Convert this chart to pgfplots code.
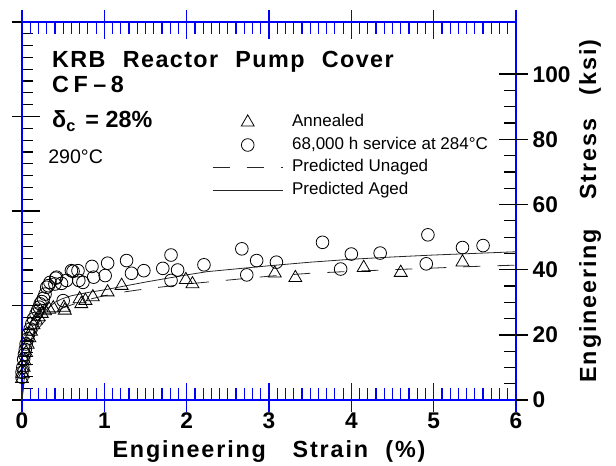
\documentclass[border=0pt]{standalone}
\usepackage{fontspec}
\setmainfont{Liberation Sans}
\usepackage{pgfplots}
\pgfplotsset{compat=1.18}
\pgfplotsset{
  markleg/.style={legend image code/.code={\draw[mark repeat=2,mark phase=2,##1] plot coordinates {(0pt,0pt)(26.25pt,0pt)(52.5pt,0pt)};}},
  lineleg/.style={legend image code/.code={\draw[##1] (0pt,0pt) -- (52.5pt,0pt);}},
}

\begin{document}
\begin{tikzpicture}
\useasboundingbox (-16.5pt,-49.5pt) rectangle (445.5pt,300pt);

% left axis: MPa ticks only, no labels
\begin{axis}[
  scale only axis, width=370.5pt, height=283.5pt,
  xmin=0, xmax=6, ymin=0, ymax=800,
  hide x axis,
  ytick={0,200,...,800}, minor y tick num=7,
  ytick pos=left, yticklabels={},
  tick align=inside,
  major tick length=13.5pt, minor tick length=8.25pt,
  axis line style={blue, line width=1.2pt},
  every major tick/.append style={black, line width=1.2pt},
  every minor tick/.append style={black, line width=0.9pt},
  extra y ticks={0,200,...,800}, extra y tick labels={},
  extra y tick style={tick align=outside, major tick length=7.5pt},
]
\end{axis}

\begin{axis}[
  scale only axis, width=370.5pt, height=283.5pt,
  xmin=0, xmax=6, ymin=0, ymax=116.03,
  clip=false,
  xtick={0,...,6}, minor x tick num=9,
  ytick={0,20,...,100}, minor y tick num=3,
  xtick pos=both, xticklabel pos=lower,
  ytick pos=right, yticklabel pos=right,
  tick align=inside,
  major tick length=12.75pt, minor tick length=8.75pt,
  axis line style={blue, line width=1.2pt},
  x tick style={blue},
  y tick style={black},
  every major tick/.append style={line width=1.2pt},
  every minor tick/.append style={line width=0.9pt},
  extra x ticks={0,...,6}, extra x tick labels={},
  extra x tick style={tick align=outside, major tick length=9pt},
  extra y ticks={0,20,...,100}, extra y tick labels={},
  extra y tick style={tick align=outside, major tick length=9pt},
  /pgf/number format/assume math mode=true,
  xticklabel style={font=\fontsize{17}{20}\bfseries, yshift=-6pt},
  yticklabel style={font=\fontsize{17}{20}\bfseries, xshift=9pt},
  xlabel={Engineering\hspace{20pt}Strain\hspace{13pt}(\%)},
  xlabel style={at={(rel axis cs:0.5,0)}, anchor=base, yshift=-42.8pt,
    font=\fontsize{17.5}{20}\bfseries\addfontfeatures{LetterSpace=8}},
  legend style={draw=none, fill=none, at={(axis cs:2.26,89.1)}, anchor=north west,
    font=\fontsize{12.75}{15}\selectfont, row sep=2.5pt, column sep=5.75pt,
    nodes={inner sep=1pt, text height=9.5pt, text depth=3pt}},
  legend cell align=left,
]

\addplot[only marks, mark=triangle, mark size=5.6pt, mark options={line width=0.6pt}, black, markleg]
coordinates {
(0.00,6.5)(0.01,8)(0.02,10)(0.03,12)(0.05,14.5)(0.07,17)(0.09,19)(0.11,21)
(0.14,23)(0.17,24.5)(0.20,25.5)(0.24,26.5)(0.28,27.3)(0.33,27.8)(0.38,28.2)
(0.51,28.4)(0.52,27.5)(0.70,31.0)(0.72,29.5)(0.77,30.5)(0.86,31.6)(1.04,33.1)
(1.21,35.1)(1.99,36.9)(2.07,35.6)(3.07,38.9)(3.32,37.5)(4.15,40.6)(4.60,39.1)
(5.35,42.3)
};
\addlegendentry{Annealed}

\addplot[only marks, mark=o, mark size=4.75pt, mark options={line width=0.6pt}, black, markleg]
coordinates {
(0.00,7.0)(0.00,8.5)(0.01,10)(0.02,12.5)(0.03,14)(0.04,15.5)(0.05,17.2)
(0.07,18.8)(0.08,20.3)(0.10,21.8)(0.12,23.4)(0.14,24.9)(0.17,26.4)(0.19,27.5)
(0.21,28.5)(0.22,29.5)(0.24,30.2)(0.26,31.2)(0.28,32.5)(0.30,34.6)(0.32,35.1)
(0.34,36.1)(0.40,35.6)(0.41,37.4)(0.42,37.7)(0.48,35.8)(0.50,30.5)(0.54,36.7)
(0.60,39.7)(0.62,39.5)(0.68,39.7)(0.69,36.7)(0.74,36.1)(0.85,41.0)(0.87,37.7)
(1.01,38.2)(1.04,42.0)(1.27,42.8)(1.33,38.9)(1.48,39.7)(1.71,40.4)(1.81,44.5)
(1.89,39.9)(1.81,36.7)(2.21,41.5)(2.67,46.4)(2.85,42.8)(2.73,38.4)(3.09,42.3)
(3.65,48.4)(4.00,44.8)(3.87,40.2)(4.35,45.1)(4.93,50.7)(4.91,41.8)(5.35,46.8)
(5.60,47.4)
};
\addlegendentry{68,000 h service at 284°C}

\addplot[black!85, line width=0.6pt, dash pattern=on 12.75pt off 12.75pt, lineleg]
coordinates {
(0,0)(0.02,4.5)(0.05,10)(0.1,16)(0.15,19.5)(0.2,22)(0.3,25)(0.4,27)(0.5,28.3)
(0.75,30.5)(1,32)(1.25,33.2)(1.5,34.1)(2,35.6)(2.5,36.8)(3,38)(3.5,38.9)
(4,39.5)(4.5,40)(5,40.5)(5.5,41)(6,41.4)
};
\addlegendentry{Predicted Unaged}

\addplot[black!85, line width=0.6pt, lineleg]
coordinates {
(0,0)(0.02,5)(0.05,11)(0.1,17.5)(0.15,21.5)(0.2,24.5)(0.3,27.8)(0.4,30)
(0.5,31.2)(0.6,32)(0.8,33)(1,33.8)(1.25,35)(1.5,36.2)(1.75,37.3)(2,38.4)
(2.25,39.4)(2.5,40)(3,41.2)(3.5,42.3)(4,43.2)(4.5,43.9)(5,44.5)(5.5,45)(6,45.5)
};
\addlegendentry{Predicted Aged}

\node[anchor=base west, inner sep=0pt, font=\fontsize{17.5}{20}\bfseries\addfontfeatures{LetterSpace=6}]
  at (axis cs:0.364,102.1) {KRB\hspace{13pt}Reactor\hspace{13pt}Pump\hspace{13pt}Cover};
\node[anchor=base west, inner sep=0pt, font=\fontsize{17.5}{20}\bfseries\addfontfeatures{LetterSpace=6}]
  at (axis cs:0.364,94.4) {C\hspace{3.5pt}F\hspace{4pt}–\hspace{3.5pt}8};
\node[anchor=base west, inner sep=0pt, font=\fontsize{17.5}{20}\bfseries]
  at (axis cs:0.364,83.5) {δ\textsubscript{c}\hspace{7pt}=\hspace{5pt}28\%};
\node[anchor=base west, inner sep=0pt, font=\fontsize{14.7}{17}\selectfont]
  at (axis cs:0.316,72.6) {290°C};
\node[rotate=90, anchor=center, inner sep=0pt,
  font=\fontsize{17.5}{20}\bfseries\addfontfeatures{LetterSpace=8}]
  at (axis cs:6.899,58.0) {Engineering\hspace{22pt}Stress\hspace{18pt}(ksi)};
\end{axis}
\end{tikzpicture}
\end{document}
